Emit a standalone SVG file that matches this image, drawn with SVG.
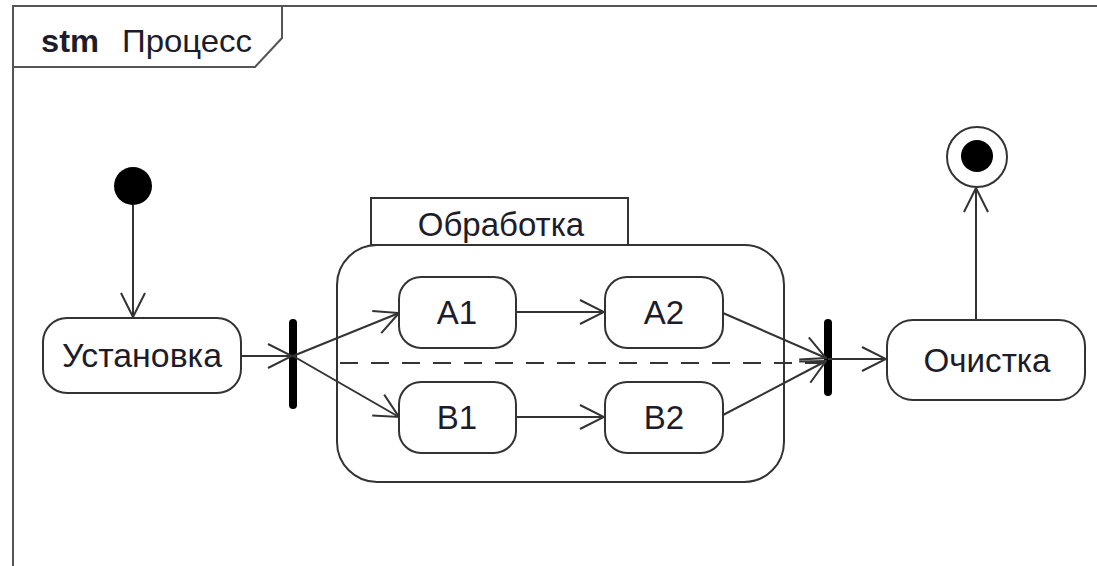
<svg xmlns="http://www.w3.org/2000/svg" width="1097" height="566" viewBox="0 0 1097 566">
<defs>
<style>
.frame{fill:none;stroke:#555;stroke-width:2}
.st{fill:#fff;stroke:#333;stroke-width:2}
.ln{fill:none;stroke:#333;stroke-width:2}
.dash{fill:none;stroke:#333;stroke-width:2;stroke-dasharray:18 13}
.bar{fill:#000}
.t{font-family:"Liberation Sans",Arial,sans-serif;font-size:33px;fill:#1c1c2a;text-anchor:middle}
.h{font-family:"Liberation Sans",Arial,sans-serif;font-size:32px;fill:#1c1c2a}
</style>
<marker id="arr" markerUnits="userSpaceOnUse" viewBox="0 0 26 26" refX="25" refY="13" markerWidth="26" markerHeight="26" orient="auto">
<path d="M1,1 L25,13 L1,25" fill="none" stroke="#333" stroke-width="2"/>
</marker>
</defs>
<rect width="1097" height="566" fill="#fff"/>
<g id="frame">
<path class="frame" d="M13,566 L13,6 L1097,6"/>
<path class="frame" d="M282,6 L282,38 L255,67 L13,67"/>
<text class="h" x="41" y="52" font-weight="bold" textLength="58" lengthAdjust="spacingAndGlyphs">stm</text>
<text class="h" x="122" y="52" textLength="130" lengthAdjust="spacingAndGlyphs">Процесс</text>
</g>
<g id="composite">
<rect class="st" x="371" y="198" width="257" height="47"/>
<text class="t" x="501" y="236">Обработка</text>
<rect class="st" x="337" y="245" width="447" height="237" rx="40"/>
</g>
<g id="initial"><circle cx="133" cy="186" r="19" fill="#000"/></g>
<g id="final">
<circle cx="977" cy="157" r="30" fill="#fff" stroke="#333" stroke-width="2"/>
<circle cx="977" cy="156" r="16" fill="#000"/>
</g>
<g id="setup"><rect class="st" x="43" y="318" width="198" height="75" rx="24"/><text class="t" x="142" y="367" textLength="160" lengthAdjust="spacingAndGlyphs">Установка</text></g>
<g id="fork"><rect class="bar" x="289" y="319" width="8" height="90" rx="4"/></g>
<g id="join"><rect class="bar" x="824" y="319" width="8" height="77" rx="4"/></g>
<g id="A1"><rect class="st" x="399" y="277" width="117" height="71" rx="22"/><text class="t" x="457" y="324">A1</text></g>
<g id="A2"><rect class="st" x="605" y="277" width="118" height="71" rx="22"/><text class="t" x="664" y="324">A2</text></g>
<g id="B1"><rect class="st" x="399" y="382" width="117" height="71" rx="22"/><text class="t" x="457" y="429">B1</text></g>
<g id="B2"><rect class="st" x="605" y="382" width="118" height="71" rx="22"/><text class="t" x="664" y="429">B2</text></g>
<g id="cleanup"><rect class="st" x="887" y="320" width="198" height="80" rx="26"/><text class="t" x="987" y="372" textLength="127" lengthAdjust="spacingAndGlyphs">Очистка</text></g>
<g id="connectors">
<path class="dash" d="M340,363 L822,363"/>
<path class="ln" marker-end="url(#arr)" d="M133,205 L133,317"/>
<path class="ln" marker-end="url(#arr)" d="M241,356 L292,356"/>
<path class="ln" marker-end="url(#arr)" d="M293,356 L399,313"/>
<path class="ln" marker-end="url(#arr)" d="M293,356 L399,417"/>
<path class="ln" marker-end="url(#arr)" d="M516,312 L604,312"/>
<path class="ln" marker-end="url(#arr)" d="M516,417 L604,417"/>
<path class="ln" marker-end="url(#arr)" d="M723,313 L826,358"/>
<path class="ln" marker-end="url(#arr)" d="M723,415 L826,361"/>
<path class="ln" marker-end="url(#arr)" d="M828,359 L886,359"/>
<path class="ln" marker-end="url(#arr)" d="M976,320 L976,188"/>
</g>
</svg>
